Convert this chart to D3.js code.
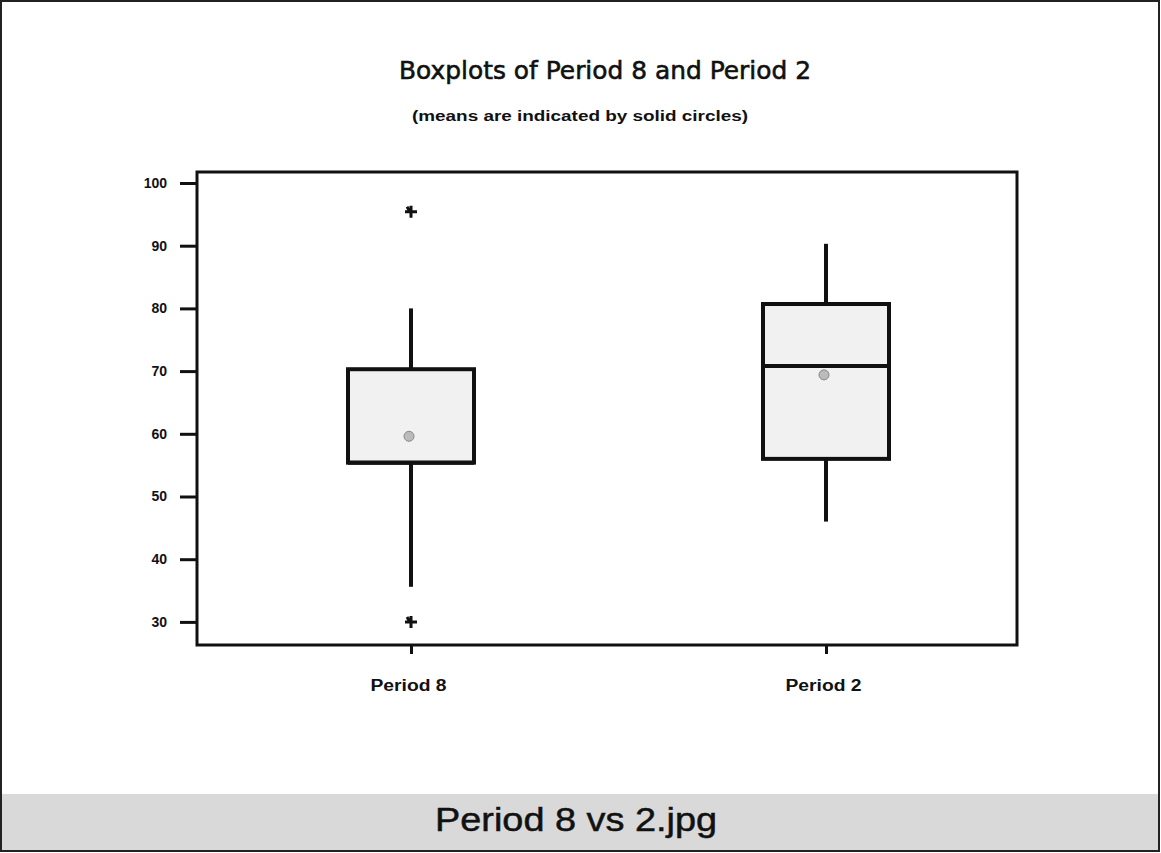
<!DOCTYPE html>
<html><head><meta charset="utf-8">
<script src="https://cdn.jsdelivr.net/npm/d3@7"></script>
<style>body{margin:0;background:#fff}svg{display:block}</style>
</head><body>
<svg id="c" width="1161" height="853"></svg>
<script>
const categories = ["Period 8", "Period 2"];
const whiskerLow = [35.6, 46];
const q1 = [55.4, 56];
const median = [55.4, 70.8];
const q3 = [70.3, 80.7];
const whiskerHigh = [80, 90.3];
const means = [59.6, 69.4];
const outliers = [[95.4, 30], []];
const yTicks = [30, 40, 50, 60, 70, 80, 90, 100];

const svg = d3.select("#c");
const W = 1161, H = 853;
const L = 197, R = 1017, T = 172, B = 645;

// outer frame
svg.append("rect").attr("x", 1).attr("y", 1).attr("width", W - 3).attr("height", H - 3)
  .attr("fill", "#fff").attr("stroke", "#222").attr("stroke-width", 2);
// caption band
svg.append("rect").attr("x", 2).attr("y", 794).attr("width", W - 5).attr("height", 56)
  .attr("fill", "#d9d9d9");
svg.append("text").attr("x", 576).attr("y", 831).attr("text-anchor", "middle")
  .attr("font-family", "Liberation Sans, Arial, sans-serif")
  .attr("font-size", 33).attr("fill", "#111").attr("stroke", "#111").attr("stroke-width", 0.5)
  .attr("textLength", 282).attr("lengthAdjust", "spacingAndGlyphs")
  .text("Period 8 vs 2.jpg");

svg.append("text").attr("x", 605).attr("y", 79).attr("text-anchor", "middle")
  .attr("font-family", "DejaVu Sans, sans-serif").attr("font-size", 25).attr("fill", "#111")
  .attr("stroke", "#111").attr("stroke-width", 0.6)
  .attr("textLength", 412).attr("lengthAdjust", "spacingAndGlyphs")
  .text("Boxplots of Period 8 and Period 2");
svg.append("text").attr("x", 580).attr("y", 121).attr("text-anchor", "middle")
  .attr("font-family", "Liberation Sans, Arial, sans-serif").attr("font-weight", "bold")
  .attr("font-size", 14).attr("fill", "#111")
  .attr("textLength", 336).attr("lengthAdjust", "spacingAndGlyphs")
  .text("(means are indicated by solid circles)");

const y = d3.scaleLinear().domain([100 - (B - 183) / 6.27, 100 + (183 - T) / 6.27]).range([B, T]);
const x = d3.scalePoint().domain(categories).range([411, 826]);

// plot frame
svg.append("rect").attr("x", L).attr("y", T).attr("width", R - L).attr("height", B - T)
  .attr("fill", "none").attr("stroke", "#111").attr("stroke-width", 3);

const yAxis = svg.append("g").attr("transform", `translate(${L},0)`)
  .call(d3.axisLeft(y).tickValues(yTicks).tickSize(17).tickPadding(13).tickFormat(d3.format("d")));
yAxis.select(".domain").remove();
yAxis.selectAll("line").attr("stroke", "#111").attr("stroke-width", 3);
yAxis.selectAll("text").attr("font-family", "Liberation Sans, Arial, sans-serif")
  .attr("font-weight", "bold").attr("font-size", 14).attr("fill", "#111");

const xAxis = svg.append("g").attr("transform", `translate(0,${B})`)
  .call(d3.axisBottom(x).tickSize(9).tickPadding(26));
xAxis.select(".domain").remove();
xAxis.selectAll("line").attr("stroke", "#111").attr("stroke-width", 3);
xAxis.selectAll("text").attr("font-family", "Liberation Sans, Arial, sans-serif")
  .attr("font-weight", "bold").attr("font-size", 16).attr("fill", "#111")
  .attr("textLength", 76).attr("lengthAdjust", "spacingAndGlyphs")
  .attr("dx", -3);

const bw = 126;
categories.forEach((c, i) => {
  const cx = x(c);
  const g = svg.append("g");
  g.append("line").attr("x1", cx).attr("x2", cx).attr("y1", y(q3[i])).attr("y2", y(whiskerHigh[i]))
    .attr("stroke", "#111").attr("stroke-width", 4);
  g.append("line").attr("x1", cx).attr("x2", cx).attr("y1", y(q1[i])).attr("y2", y(whiskerLow[i]))
    .attr("stroke", "#111").attr("stroke-width", 4);
  g.append("rect").attr("x", cx - bw / 2).attr("y", y(q3[i])).attr("width", bw)
    .attr("height", y(q1[i]) - y(q3[i])).attr("fill", "#f1f1f1").attr("stroke", "#111").attr("stroke-width", 4);
  g.append("line").attr("x1", cx - bw / 2).attr("x2", cx + bw / 2).attr("y1", y(median[i])).attr("y2", y(median[i]))
    .attr("stroke", "#111").attr("stroke-width", 4);
  g.append("circle").attr("cx", cx - 2).attr("cy", y(means[i])).attr("r", 5)
    .attr("fill", "#bbb").attr("stroke", "#888").attr("stroke-width", 1);
  outliers[i].forEach(v => {
    const oy = y(v);
    g.append("path").attr("d", `M${cx - 6},${oy}H${cx + 6}M${cx},${oy - 6}V${oy + 6}M${cx - 4},${oy - 5}L${cx - 1},${oy}`)
      .attr("stroke", "#111").attr("stroke-width", 3).attr("fill", "none");
  });
});
</script>
</body></html>
